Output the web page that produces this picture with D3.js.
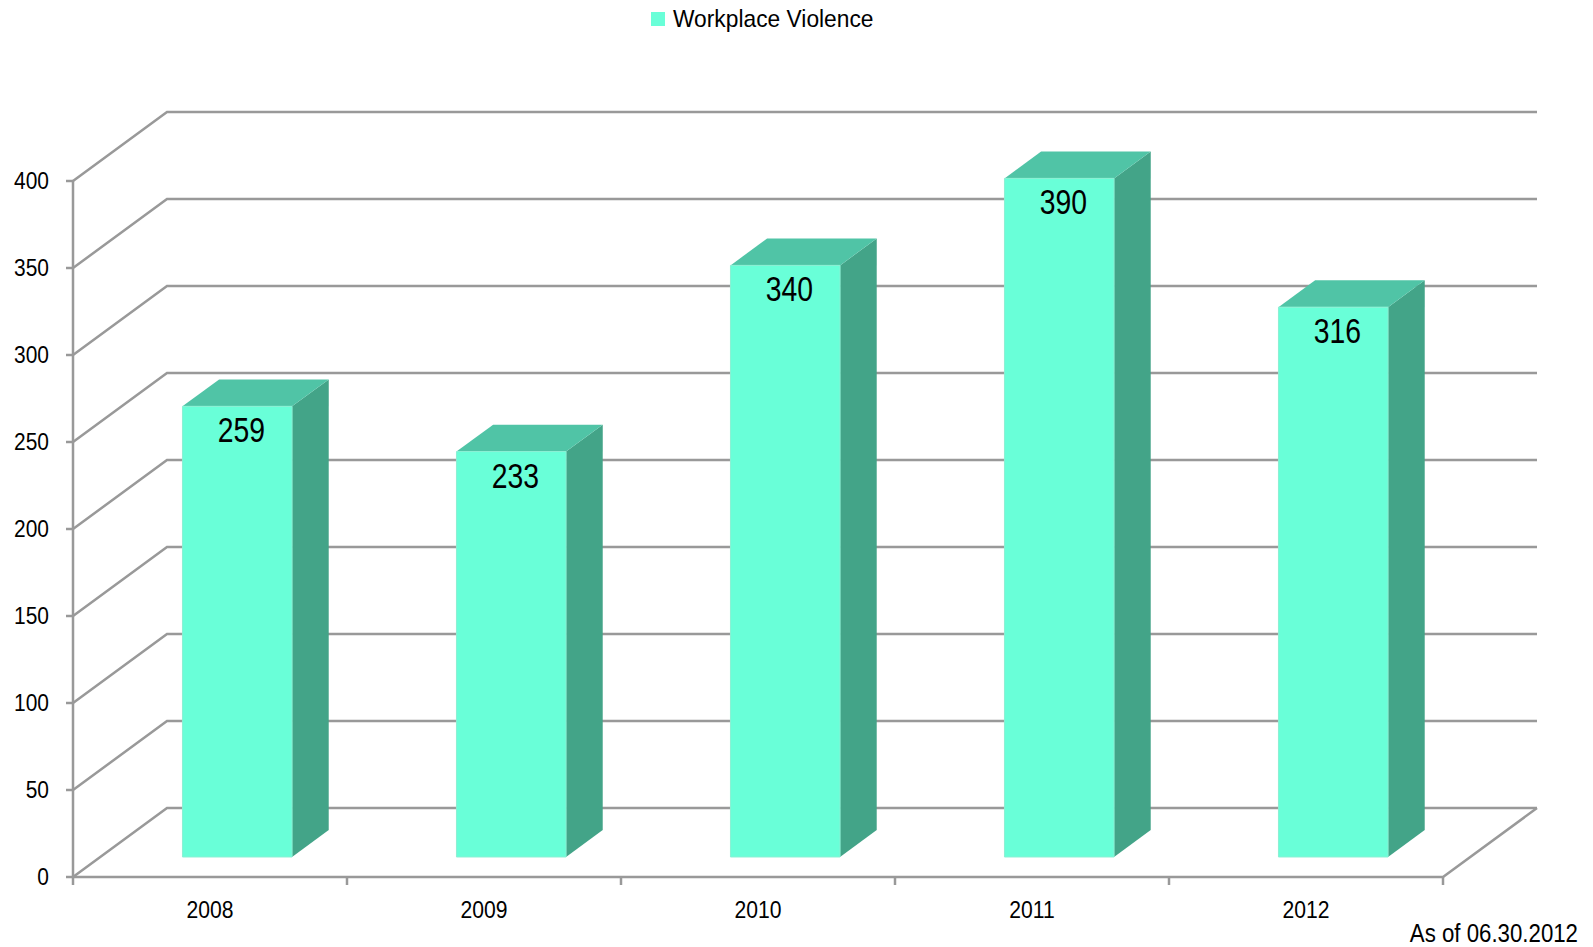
<!DOCTYPE html>
<html>
<head>
<meta charset="utf-8">
<script src="https://cdn.jsdelivr.net/npm/d3@7"></script>
<style>
  html, body { margin: 0; padding: 0; background: #fff; }
  svg text { font-family: "Liberation Sans", Arial, sans-serif; fill: #000; }
</style>
</head>
<body>
<div id="chart"></div>
<script>
var years = ["2008", "2009", "2010", "2011", "2012"];
var incidents = [259, 233, 340, 390, 316];
var yTicks = [0, 50, 100, 150, 200, 250, 300, 350, 400];
var seriesName = "Workplace Violence";
var note = "As of 06.30.2012";

var W = 1593, H = 947;
var left = 73, right = 1443, floorY = 877, topY = 181;
var depthX = 94, depthY = -69;     // offset of the back wall
var barZ0 = 0.29, barZ1 = 0.68;    // depth range the bars occupy
var barFrac = 0.40;

var colFront = "#69ffd8", colTop = "#50c4a6", colSide = "#43a488", gridCol = "#999999";

var svg = d3.select("#chart").append("svg")
    .attr("width", W).attr("height", H);

var x = d3.scaleBand().domain(years).range([left, right]);
var y = d3.scaleLinear().domain([0, 400]).range([floorY, topY]);

function p(px, v, z){ return [px + z * depthX, y(v) + z * depthY]; }
var line = d3.line();
// narrowed text, font looks condensed in the original
function at(tx, ty, k){ return "translate(" + tx + "," + ty + ") scale(" + k + ",1)"; }

// grid: left wall diagonals + back wall lines
var grid = svg.append("g").attr("fill", "none").attr("stroke", gridCol).attr("stroke-width", 2.5);
yTicks.forEach(function(t){
    grid.append("path").attr("d", line([p(left, t, 0), p(left, t, 1), p(right, t, 1)]));
});
// floor
grid.append("path").attr("d", line([p(left, 0, 0), p(right, 0, 0), p(right, 0, 1)]));
// vertical axis
grid.append("path").attr("d", line([p(left, 0, 0), p(left, 400, 0)]));
// y ticks
yTicks.forEach(function(t){
    grid.append("path").attr("d", line([[left - 7, y(t)], [left, y(t)]]));
});
// x ticks at category boundaries
years.concat(["end"]).forEach(function(c, i){
    var xx = i < years.length ? x(c) : right;
    grid.append("path").attr("d", line([[xx, floorY], [xx, floorY + 8]]));
});

// y labels
svg.append("g").selectAll("text").data(yTicks).enter().append("text")
    .attr("transform", function(d){ return at(49, y(d) + 8, 0.91); })
    .attr("text-anchor", "end").attr("font-size", 23).text(function(d){ return d; });

// x labels
svg.append("g").selectAll("text").data(years).enter().append("text")
    .attr("transform", function(d){ return at(x(d) + x.bandwidth() / 2, 918, 0.92); })
    .attr("text-anchor", "middle").attr("font-size", 23).text(function(d){ return d; });

// bars
var bw = x.bandwidth() * barFrac;
var bars = svg.append("g").selectAll("g").data(years).enter().append("g");
bars.each(function(c, i){
    var g = d3.select(this);
    var v = incidents[i];
    var xl = x(c) + (x.bandwidth() - bw) / 2, xr = xl + bw;
    var f0 = p(xl, 0, barZ0), f1 = p(xr, 0, barZ0), f2 = p(xr, v, barZ0), f3 = p(xl, v, barZ0);
    var b1 = p(xr, 0, barZ1), b2 = p(xr, v, barZ1), b3 = p(xl, v, barZ1);
    g.append("path").attr("d", line([f1, b1, b2, f2]) + "Z").attr("fill", colSide);
    g.append("path").attr("d", line([f3, f2, b2, b3]) + "Z").attr("fill", colTop);
    g.append("path").attr("d", line([f0, f1, f2, f3]) + "Z").attr("fill", colFront)
        .attr("stroke", "#8af0d4").attr("stroke-width", 1);
    g.append("text").attr("transform", at((f0[0] + f1[0]) / 2 + 4, f3[1] + 36, 0.81))
        .attr("text-anchor", "middle").attr("font-size", 35).text(v);
});

// legend
svg.append("rect").attr("x", 651).attr("y", 12).attr("width", 14).attr("height", 14).attr("fill", colFront);
svg.append("text").attr("transform", at(673, 27, 0.95)).attr("font-size", 24).text(seriesName);

// note
svg.append("text").attr("transform", at(1578, 942, 0.89)).attr("text-anchor", "end")
    .attr("font-size", 25).text(note);
</script>
</body>
</html>
